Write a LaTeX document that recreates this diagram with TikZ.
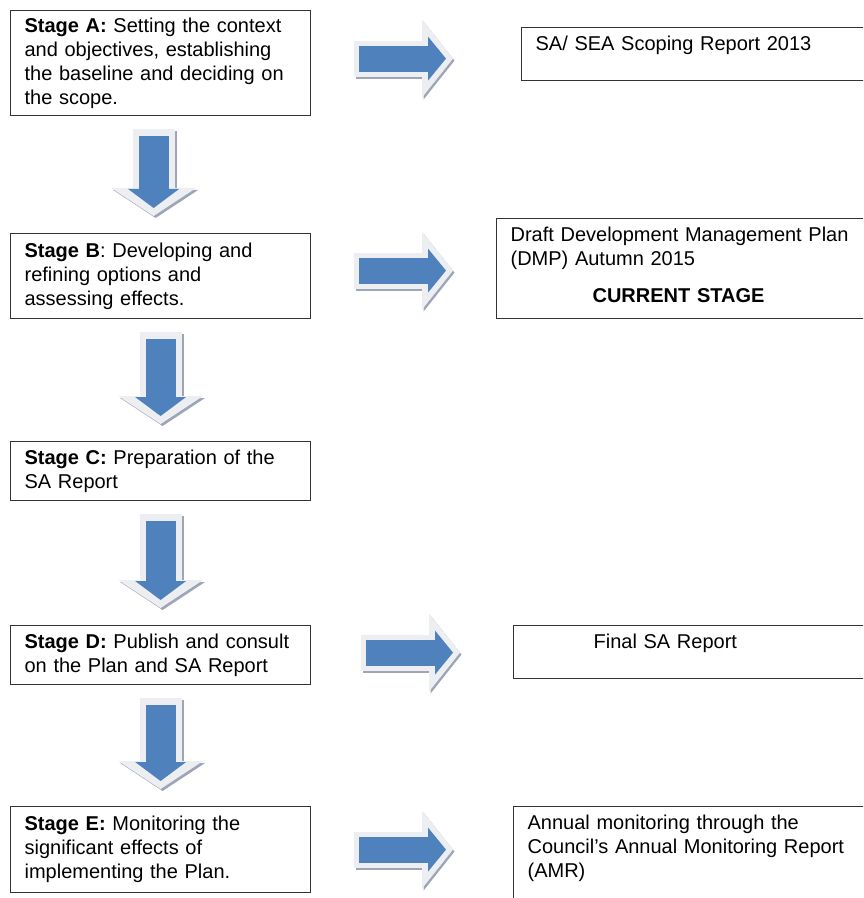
\documentclass[tikz,border=0pt]{standalone}
\usepackage{fontspec}
\setmainfont{Liberation Sans}
\usetikzlibrary{arrows.meta}

\definecolor{arrblue}{HTML}{4F81BD}
\definecolor{bevel}{HTML}{ECEEF1}
\definecolor{shade}{HTML}{9DA5B6}

\begin{document}
\begin{tikzpicture}[x=0.5pt,y=-0.5pt,
    font=\fontsize{10}{12}\selectfont,
    stagebox/.style={draw=black!80, line width=0.6pt, anchor=north west,
        minimum width=150pt, text width=136pt, inner xsep=7pt, align=left},
    outbox/.style={draw=black!80, line width=0.6pt, anchor=north west,
        text width=180pt, inner xsep=7pt, inner ysep=4pt, align=left,
        text height=7.5pt},
    downarr/.style={arrblue, line width=15pt, shorten <=10pt, shorten >=12.5pt,
        -{Triangle[width=25.5pt,length=9.5pt,line width=0pt]},
        preaction={draw=shade, transform canvas={shift={(1pt,-1pt)}},
            line width=21pt, shorten <=6.5pt, shorten >=8.5pt,
            -{Triangle[width=42.5pt,length=14pt,line width=0pt]}},
        preaction={draw=bevel, line width=21pt, shorten <=6.5pt, shorten >=8.5pt,
            -{Triangle[width=42.5pt,length=14pt,line width=0pt]}}},
    rightarr/.style 2 args={arrblue, line width=13pt,
        shorten <={#1+2.5pt}, shorten >={#2+3.5pt},
        -{Triangle[width=22pt,length=9pt,line width=0pt]},
        preaction={draw=shade, transform canvas={shift={(0.75pt,-1pt)}},
            line width=18pt, shorten <=#1, shorten >=#2,
            -{Triangle[width=39pt,length=15.5pt,line width=0pt]}},
        preaction={draw=bevel, line width=18pt, shorten <=#1, shorten >=#2,
            -{Triangle[width=39pt,length=15.5pt,line width=0pt]}}}]
    \useasboundingbox (0,0) rectangle (863,898);
    \clip (0,0) rectangle (863,898);

    % stages
    \node [stagebox, minimum height=52.5pt] (stageA) at (10,10)
        {\textbf{Stage A:} Setting the context\\and objectives, establishing\\the baseline and deciding on\\the scope.};
    \node [stagebox, minimum height=42.5pt] (stageB) at (10,233)
        {\textbf{Stage B}: Developing and\\refining options and\\assessing effects.};
    \node [stagebox, minimum height=29.5pt] (stageC) at (10,441)
        {\textbf{Stage C:} Preparation of the\\SA Report};
    \node [stagebox, minimum height=29.5pt] (stageD) at (10,625)
        {\textbf{Stage D:} Publish and consult\\on the Plan and SA Report};
    \node [stagebox, minimum height=43pt] (stageE) at (10,806)
        {\textbf{Stage E:} Monitoring the\\significant effects of\\implementing the Plan.};

    % outputs
    \node [outbox, text depth=11pt] (sea) at (521,27)
        {SA/ SEA Scoping Report 2013};
    \node [outbox, text depth=34.5pt] (dmp) at (496,218)
        {Draft Development Management Plan\\(DMP) Autumn 2015\\[6.5pt]\hspace*{41pt}\textbf{CURRENT STAGE}};
    \node [outbox, text depth=11pt] (final) at (513,625)
        {\hspace*{33pt}Final SA Report};
    \node [outbox, text depth=34pt] (amr) at (513,806)
        {Annual monitoring through the\\Council’s Annual Monitoring Report\\(AMR)};

    % down arrows
    \draw [downarr] ([xshift=-3.5pt]stageA.south) -- ([xshift=-3.5pt]stageB.north);
    \draw [downarr] (stageB) -- (stageC);
    \draw [downarr] (stageC) -- (stageD);
    \draw [downarr] (stageD) -- (stageE);

    % right arrows
    \coordinate (a1) at ([yshift=2.25pt]stageA.east);
    \coordinate (b1) at ([yshift=2.75pt]stageB.east);
    \coordinate (d1) at ([yshift=1.25pt]stageD.east);
    \coordinate (e1) at (stageE.east);
    \draw [rightarr={21.5pt}{34pt}] (a1) -- (a1 -| sea.west);
    \draw [rightarr={21.5pt}{21.5pt}] (b1) -- (b1 -| dmp.west);
    \draw [rightarr={25pt}{26.5pt}] (d1) -- (d1 -| final.west);
    \draw [rightarr={21.5pt}{30pt}] (e1) -- (e1 -| amr.west);
\end{tikzpicture}
\end{document}
